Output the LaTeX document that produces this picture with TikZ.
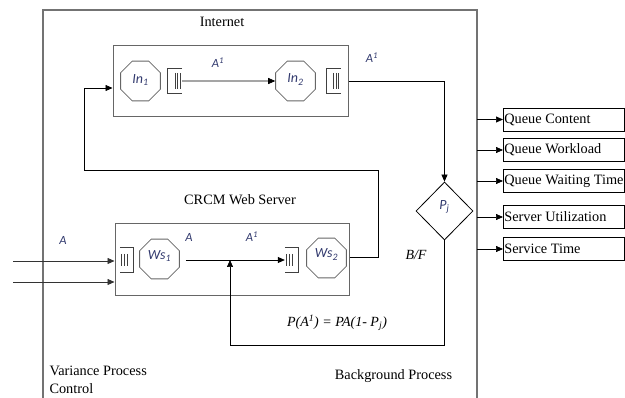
\documentclass[tikz,border=0pt]{standalone}
\usepackage{fontspec}
\setmainfont{Liberation Serif}
\newfontfamily\lblfont{Carlito}
\usetikzlibrary{calc,arrows.meta,shapes.geometric}
\definecolor{lblblue}{RGB}{50,58,110}
\def\qclosedleft(#1){\draw[qline] (#1.north east) -| (#1.south west) -- (#1.south east);
	\foreach \dx in {-7,-4.5,-2} \draw[qline] ($(#1.east)+(\dx,-8)$) -- ($(#1.east)+(\dx,8)$);}
\def\qclosedright(#1){\draw[qline] (#1.north west) -| (#1.south east) -- (#1.south west);
	\foreach \dx in {2,5,8} \draw[qline] ($(#1.west)+(\dx,-6)$) -- ($(#1.west)+(\dx,6)$);}
\tikzset{
	frame/.style={line width=1.1pt, color=black!55},
	sysbox/.style={draw, line width=1pt, color=black!60, inner sep=0pt},
	octa/.style={draw=black!60, line width=0.8pt, regular polygon, regular polygon sides=8, minimum size=43pt, inner sep=0pt, font=\lblfont\itshape\fontsize{14}{16}\selectfont, text=lblblue},
	qbox/.style={minimum width=14pt, minimum height=24pt, inner sep=0pt},
	qline/.style={line width=0.7pt, color=black!75},
	arr/.style={-{Triangle[length=7pt,width=6pt]}, line width=0.7pt},
	lbl/.style={font=\lblfont\itshape\fontsize{12.5}{14}\selectfont, text=lblblue},
	serif/.style={font=\fontsize{14.3}{19}\selectfont},
	metric/.style={draw, line width=0.8pt, anchor=west, minimum height=23pt, inner xsep=1pt, inner ysep=0pt, font=\fontsize{14.3}{17}\selectfont}
}
\begin{document}
\begin{tikzpicture}[x=1pt, y=-1pt]
			%%%%% START %%%%%
			\useasboundingbox (0,0) rectangle (625,398);
			
			\draw[frame] (43,398) -- (43,10) -- (477,10) -- (477,398);
			\coordinate (fr) at (477,0);
			
			\node[serif] (inettitle) at (222,22) {Internet};
			\node[serif] (webtitle) at (240,200) {CRCM Web Server};
			
			% internet part
			\node[sysbox, minimum width=235pt, minimum height=71pt] (inet) at (230.5,81) {};
			\node[octa] (in1) at (140.5,81) {\raisebox{4pt}{In\textsubscript{1}}};
			\node[qbox] (iq1) at (175,81) {};
			\node[octa] (in2) at (295.5,81) {\raisebox{5pt}{In\textsubscript{2}}};
			\node[qbox] (iq2) at (333.5,81) {};
			\qclosedleft(iq1)
			\qclosedleft(iq2)
			\draw[arr] (iq1.east) -- (in2.west);
			\node[lbl] (ia1) at (218,63) {A\textsuperscript{1}};
			\node[lbl] (ia2) at (372,58) {A\textsuperscript{1}};
			
			% web server part
			\node[sysbox, minimum width=234pt, minimum height=72pt] (web) at (232,260) {};
			\node[qbox, minimum width=13pt] (wq1) at (126.5,260) {};
			\node[octa] (ws1) at (159.5,259) {\raisebox{8pt}{Ws\textsubscript{1}}};
			\node[qbox, minimum width=13pt] (wq2) at (291.5,260) {};
			\node[octa] (ws2) at (326.5,258) {\raisebox{9pt}{Ws\textsubscript{2}}};
			\qclosedright(wq1)
			\qclosedright(wq2)
			\coordinate (mix) at (230,260);
			\draw[arr, shorten <=6pt] (ws1.east |- wq2.west) -- (wq2.west);
			\node[lbl] (wa1) at (189,237) {A};
			\node[lbl] (wa2) at (252,237) {A\textsuperscript{1}};
			
			% inputs
			\coordinate (src1) at (13,261);
			\coordinate (src2) at (13,282);
			\draw[arr, line width=0.6pt, color=black!80] (src1) -- (src1 -| web.west);
			\draw[arr, line width=0.6pt, color=black!80] (src2) -- (src2 -| web.west);
			\node[lbl] (ina) at (63,240) {A};
			
			% decision
			\node[draw, line width=0.8pt, diamond, minimum width=57pt, minimum height=58pt, inner sep=0pt, lbl, font=\lblfont\itshape\fontsize{14}{16}\selectfont] (pj) at (444.5,211) {\raisebox{12pt}{P\textsubscript{j}}};
			\draw[arr] (inet.east) -| (pj.north);
			\node[serif, font=\itshape\fontsize{14}{17}\selectfont] (bf) at (416,255) {B/F};
			
			% feedback loops
			\coordinate (fbtop) at (378,170);
			\coordinate (fbleft) at (84,170);
			\draw[arr] ([yshift=3pt]web.east) -| (fbtop) -- (fbleft) |- ([yshift=-7pt]inet.west);
			\coordinate (mixlow) at (230,345);
			\draw[arr] (pj.south) |- (mixlow) -- (mix);
			\node[serif, font=\itshape\fontsize{14}{17}\selectfont] (formula) at (337,323) {P(A\textsuperscript{1}) = PA(1- P\textsubscript{j})};
			
			% outputs
			\node[metric] (m1) at (503,119.5) {\makebox[119pt][l]{Queue Content}};
			\node[metric] (m2) at (503,150) {\makebox[119pt][l]{Queue Workload}};
			\node[metric] (m3) at (503,181) {\makebox[119pt][l]{Queue Waiting Time}};
			\node[metric] (m4) at (503,217) {\makebox[119pt][l]{Server Utilization}};
			\node[metric] (m5) at (503,249) {\makebox[119pt][l]{Service Time}};
			\foreach \m in {m1,m2,m3,m4,m5}
				\draw[arr] (\m.west -| fr) -- (\m.west);
			
			\node[serif, anchor=north west, align=left] (vpc) at (46,362) {Variance Process\\Control};
			\node[serif] (bgp) at (393.5,376) {Background Process};
			
			%%%%% END %%%%%
\end{tikzpicture}
\end{document}
